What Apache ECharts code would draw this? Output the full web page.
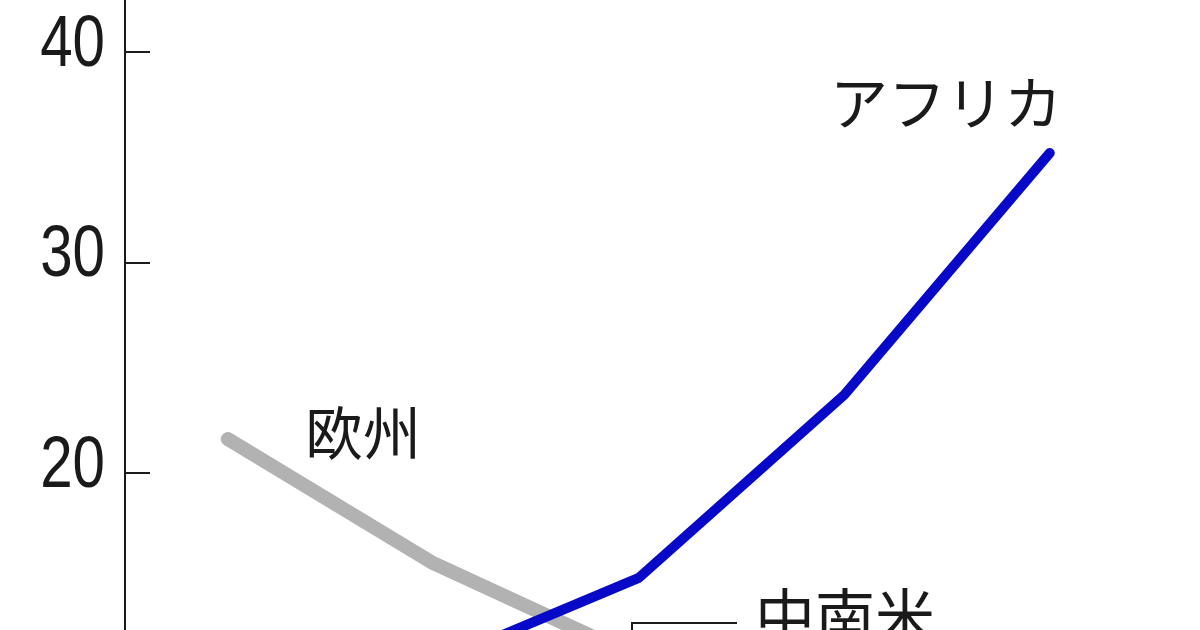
<!DOCTYPE html>
<html><head><meta charset="utf-8">
<script src="https://cdn.jsdelivr.net/npm/echarts@6/dist/echarts.min.js"></script>
<style>html,body{margin:0;padding:0;background:#fff}#c{width:1200px;height:630px}</style>
</head><body><div id="c"></div>
<script>
const categories = ['1950', '1985', '2020', '2060', '2100'];
const europe = [21.6, 15.7, 11.2, 9.0, 7.5];
const africa = [9.0, 10.9, 15.0, 23.7, 35.2];
const latinAmerica = [6.6, 8.0, 8.4, 7.8, 6.8];
const yTicks = [0, 10, 20, 30, 40, 50];

const chart = echarts.init(document.getElementById('c'), null, {renderer: 'canvas'});
const jp = '"Noto Sans CJK JP", "Noto Sans", sans-serif';
const ink = '#1a1a1a';
chart.setOption({
  animation: false,
  backgroundColor: '#ffffff',
  grid: {left: 125, right: 47.5, top: -158.35, bottom: -263.4, containLabel: false, outerBoundsMode: 'none'},
  xAxis: {
    type: 'category', data: categories, boundaryGap: true,
    axisLine: {show: false}, axisTick: {show: false}, axisLabel: {show: false}
  },
  yAxis: {
    type: 'value', min: yTicks[0], max: yTicks[yTicks.length - 1], interval: 10,
    splitLine: {show: false},
    axisLine: {show: true, lineStyle: {color: ink, width: 2}},
    axisTick: {show: true, inside: true, length: 25, lineStyle: {color: ink, width: 2}},
    axisLabel: {show: false}
  },
  series: [
    {name: '中南米', type: 'line', data: latinAmerica, symbol: 'none', z: 1,
     lineStyle: {color: '#222', width: 3}},
    {name: '欧州', type: 'line', data: europe, symbol: 'none', z: 2,
     lineStyle: {color: '#b2b2b2', width: 14, cap: 'round', join: 'round'}},
    {name: 'アフリカ', type: 'line', data: africa, symbol: 'none', z: 3,
     lineStyle: {color: '#0808c8', width: 10, cap: 'round', join: 'round'}}
  ]
});

const tickLabels = yTicks.map(function (v) {
  const py = chart.convertToPixel({yAxisIndex: 0}, v);
  return {type: 'text', x: 105, y: py - 6, scaleX: 0.81,
    style: {text: String(v), align: 'right', verticalAlign: 'middle', fontSize: 72,
      fontFamily: '"Liberation Sans", Arial, sans-serif', fill: ink}};
});
chart.setOption({
  graphic: tickLabels.concat([
    {type: 'text', left: 830, top: 74, style: {text: 'アフリカ', fontSize: 58, fontFamily: jp, fill: ink}},
    {type: 'text', left: 305, top: 404, style: {text: '欧州', fontSize: 58, fontFamily: jp, fill: ink}},
    {type: 'text', left: 755, top: 586, style: {text: '中南米', fontSize: 60, fontFamily: jp, fill: ink}},
    {type: 'polyline', shape: {points: [[737, 623], [632, 623], [632, 660]]},
     style: {stroke: ink, lineWidth: 2, fill: null}}
  ])
});
</script></body></html>
